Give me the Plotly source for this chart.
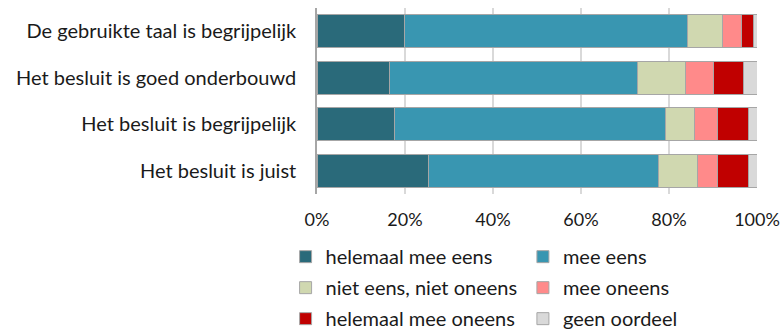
import plotly.graph_objects as go

categories = [
    "De gebruikte taal is begrijpelijk",
    "Het besluit is goed onderbouwd",
    "Het besluit is begrijpelijk",
    "Het besluit is juist",
]
series_names = [
    "helemaal mee eens",
    "mee eens",
    "niet eens, niet oneens",
    "mee oneens",
    "helemaal mee oneens",
    "geen oordeel",
]
helemaal_mee_eens = [19.8, 16.4, 17.6, 25.4]
mee_eens = [64.4, 56.5, 61.7, 52.3]
niet_eens_niet_oneens = [7.9, 10.8, 6.6, 8.7]
mee_oneens = [4.4, 6.3, 5.1, 4.6]
helemaal_mee_oneens = [2.8, 7.0, 7.0, 7.0]
geen_oordeel = [0.7, 3.0, 2.0, 2.0]
values = [helemaal_mee_eens, mee_eens, niet_eens_niet_oneens, mee_oneens,
          helemaal_mee_oneens, geen_oordeel]
colors = ["#2a6a7a", "#3996b1", "#d0d8b0", "#ff8a8a", "#c00000", "#d9d9d9"]
tick_vals = [0, 20, 40, 60, 80, 100]
tick_text = ["0%", "20%", "40%", "60%", "80%", "100%"]

FONT = "Lato"
fig = go.Figure()
for i, (name, vals, col) in enumerate(zip(series_names, values, colors)):
    fig.add_trace(go.Bar(
        y=categories, x=vals, name=name, orientation="h",
        marker=dict(color=col, line=dict(color="#a6a6a6", width=1)),
        legend="legend" if i % 2 == 0 else "legend2",
        legendgroup=name,
        hoverinfo="skip",
    ))

legend_common = dict(
    orientation="v", yanchor="top", xanchor="left",
    traceorder="grouped", tracegroupgap=2,
    font=dict(family=FONT, size=20, color="#1a1a1a"),
    bgcolor="rgba(0,0,0,0)", borderwidth=0,
    itemclick=False, itemdoubleclick=False,
)
fig.update_layout(
    width=781, height=332,
    margin=dict(l=316.5, r=23.5, t=8, b=138, autoexpand=False),
    paper_bgcolor="white", plot_bgcolor="white",
    barmode="stack", bargap=0.29,
    showlegend=True,
    legend=dict(x=-0.0714, y=-0.232, **legend_common),
    legend2=dict(x=0.468, y=-0.232, **legend_common),
    xaxis=dict(
        range=[0, 100], tickvals=tick_vals, ticktext=tick_text,
        showgrid=True, gridcolor="#d9d9d9", gridwidth=1.5,
        zeroline=False, showline=False, ticks="",
        ticklabelstandoff=13, automargin=False,
        ticklabeloverflow="allow",
        tickfont=dict(family=FONT, size=18, color="#1a1a1a"),
        fixedrange=True,
    ),
    yaxis=dict(
        autorange="reversed", showgrid=False, zeroline=False,
        showline=True, linecolor="#a6a6a6", linewidth=1.5,
        ticks="", ticklabelstandoff=15, automargin=False,
        tickfont=dict(family=FONT, size=20, color="#1a1a1a"),
        fixedrange=True,
    ),
)
fig.write_html(
    "out.html",
    config={"displayModeBar": False},
    post_script="document.body.style.margin='0';document.body.style.overflow='hidden';",
)
